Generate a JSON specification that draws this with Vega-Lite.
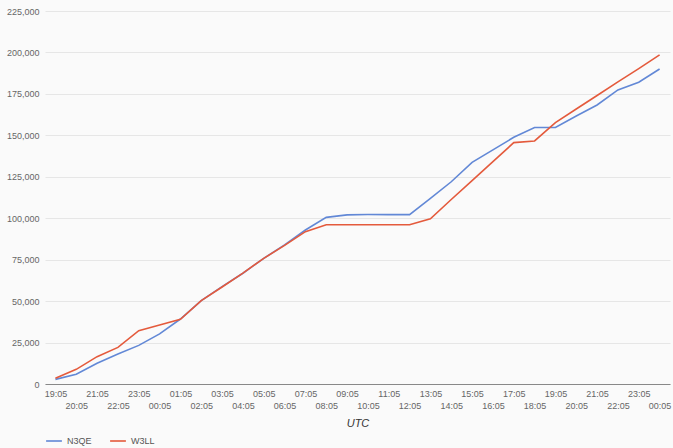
{
  "$schema": "https://vega.github.io/schema/vega-lite/v6.json",
  "autosize": "none",
  "padding": {"left": 45, "top": 11, "right": 3, "bottom": 64},
  "width": 625,
  "height": 373,
  "background": "#fafafa",
  "config": {
    "view": {"stroke": null},
    "font": "Liberation Sans"
  },
  "data": {
    "values": [
      {"t": "1 19:05", "N3QE": 2800, "W3LL": 3500},
      {"t": "1 20:05", "N3QE": 5850, "W3LL": 8850},
      {"t": "1 21:05", "N3QE": 12500, "W3LL": 16500},
      {"t": "1 22:05", "N3QE": 18100, "W3LL": 22100},
      {"t": "1 23:05", "N3QE": 23300, "W3LL": 32200},
      {"t": "2 00:05", "N3QE": 30200, "W3LL": 35600},
      {"t": "2 01:05", "N3QE": 39200, "W3LL": 39000},
      {"t": "2 02:05", "N3QE": 50300, "W3LL": 50300},
      {"t": "2 03:05", "N3QE": 58700, "W3LL": 58500},
      {"t": "2 04:05", "N3QE": 66800, "W3LL": 66900},
      {"t": "2 05:05", "N3QE": 75800, "W3LL": 75800},
      {"t": "2 06:05", "N3QE": 83900, "W3LL": 83600},
      {"t": "2 07:05", "N3QE": 92900, "W3LL": 91900},
      {"t": "2 08:05", "N3QE": 100500, "W3LL": 96100},
      {"t": "2 09:05", "N3QE": 102000, "W3LL": 96100},
      {"t": "2 10:05", "N3QE": 102200, "W3LL": 96100},
      {"t": "2 11:05", "N3QE": 102200, "W3LL": 96100},
      {"t": "2 12:05", "N3QE": 102200, "W3LL": 96100},
      {"t": "2 13:05", "N3QE": 112000, "W3LL": 99700},
      {"t": "2 14:05", "N3QE": 122000, "W3LL": 111300},
      {"t": "2 15:05", "N3QE": 133700, "W3LL": 122700},
      {"t": "2 16:05", "N3QE": 141200, "W3LL": 134100},
      {"t": "2 17:05", "N3QE": 148800, "W3LL": 145600},
      {"t": "2 18:05", "N3QE": 154700, "W3LL": 146600},
      {"t": "2 19:05", "N3QE": 154700, "W3LL": 157700},
      {"t": "2 20:05", "N3QE": 161700, "W3LL": 165900},
      {"t": "2 21:05", "N3QE": 168300, "W3LL": 174000},
      {"t": "2 22:05", "N3QE": 177400, "W3LL": 182200},
      {"t": "2 23:05", "N3QE": 182000, "W3LL": 190200},
      {"t": "3 00:05", "N3QE": 190000, "W3LL": 198500}
    ]
  },
  "transform": [{"fold": ["N3QE", "W3LL"], "as": ["series", "score"]}],
  "mark": {"type": "line", "strokeWidth": 1.6},
  "encoding": {
    "x": {
      "field": "t",
      "type": "ordinal",
      "scale": {"type": "point", "padding": 0.5},
      "axis": {
        "title": "UTC",
        "titleFontStyle": "italic",
        "titleFontWeight": "normal",
        "titleFontSize": 11,
        "titleColor": "#333",
        "titlePadding": 7,
        "labelExpr": "substring(datum.label, 2)",
        "labelAngle": 0,
        "labelFontSize": 9,
        "labelColor": "#666",
        "labelPadding": {"condition": {"test": "toNumber(substring(datum.value, 2, 4)) % 2 == 0", "value": 17}, "value": 5},
        "ticks": false,
        "grid": false,
        "domainColor": "#888",
        "domainWidth": 1
      }
    },
    "y": {
      "field": "score",
      "type": "quantitative",
      "scale": {"domain": [0, 225000]},
      "axis": {
        "title": null,
        "values": [0, 25000, 50000, 75000, 100000, 125000, 150000, 175000, 200000, 225000],
        "format": ",.0f",
        "labelFontSize": 9,
        "labelColor": "#666",
        "labelPadding": 6,
        "ticks": false,
        "domain": false,
        "gridColor": "#e6e6e6"
      }
    },
    "color": {
      "field": "series",
      "type": "nominal",
      "scale": {"domain": ["N3QE", "W3LL"], "range": ["#6288d6", "#e45a3c"]},
      "legend": {
        "title": null,
        "orient": "none",
        "direction": "horizontal",
        "legendX": 0,
        "legendY": 421,
        "symbolType": "stroke",
        "symbolStrokeWidth": 1.6,
        "symbolSize": 250,
        "labelFontSize": 9,
        "labelColor": "#555",
        "columnPadding": 14
      }
    }
  }
}
